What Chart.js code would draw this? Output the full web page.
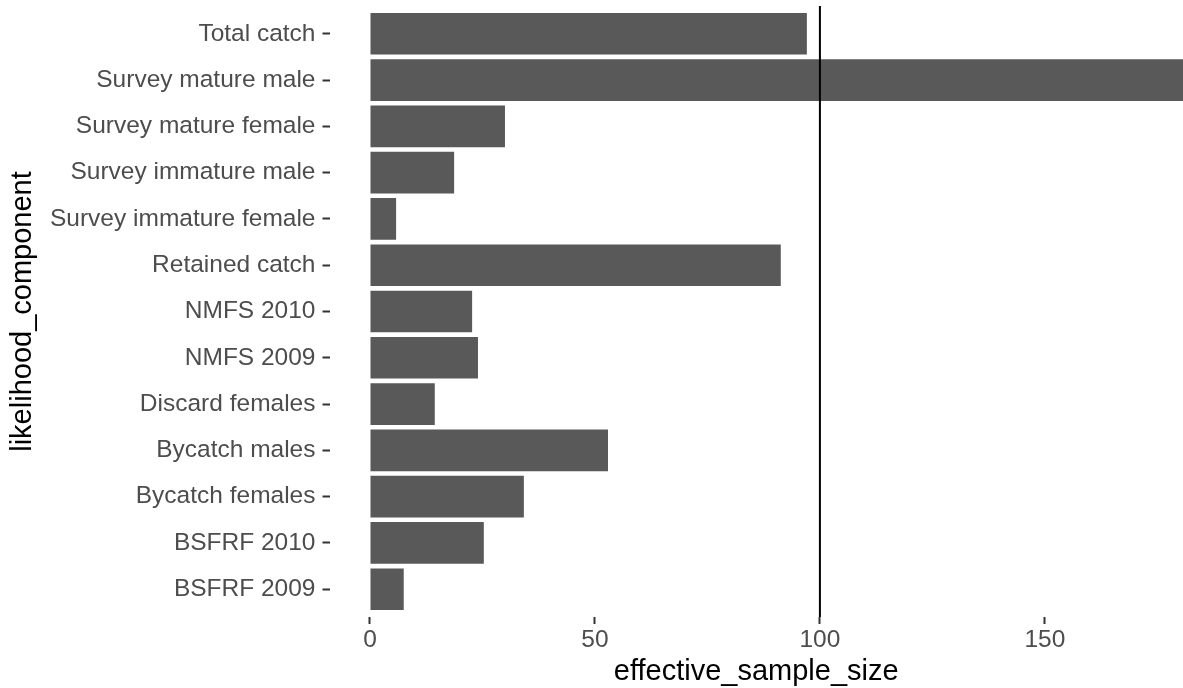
<!DOCTYPE html>
<html>
<head>
<meta charset="utf-8">
<script src="https://cdn.jsdelivr.net/npm/chart.js@4/dist/chart.umd.min.js"></script>
<style>
  html, body { margin: 0; padding: 0; background: #fff; }
  #wrap { width: 1183px; height: 688px; position: relative; }
</style>
</head>
<body>
<div id="wrap"><canvas id="c" width="1183" height="688"></canvas></div>
<script>
// Categories listed top to bottom
const categories = [
  "Total catch",
  "Survey mature male",
  "Survey mature female",
  "Survey immature male",
  "Survey immature female",
  "Retained catch",
  "NMFS 2010",
  "NMFS 2009",
  "Discard females",
  "Bycatch males",
  "Bycatch females",
  "BSFRF 2010",
  "BSFRF 2009"
];
const effectiveSampleSize = [97.1, 185, 30.0, 18.7, 5.8, 91.3, 22.7, 24.0, 14.4, 52.9, 34.2, 25.3, 7.5];
const xTickValues = [0, 50, 100, 150];
const referenceValue = 100;

const FONT = "'Liberation Sans', Arial, Helvetica, sans-serif";

const barData = categories.map((c, i) => ({ x: effectiveSampleSize[i], y: i }));
const refLine = [{ x: referenceValue, y: -0.6 }, { x: referenceValue, y: categories.length - 1 + 0.6 }];

new Chart(document.getElementById('c'), {
  type: 'bar',
  data: {
    datasets: [
      {
        type: 'line',
        data: refLine,
        borderColor: '#000000',
        borderWidth: 2,
        pointRadius: 0,
        order: 0
      },
      {
        type: 'bar',
        data: barData,
        backgroundColor: '#595959',
        borderWidth: 0,
        barPercentage: 0.9,
        categoryPercentage: 1.0,
        order: 1
      }
    ]
  },
  options: {
    indexAxis: 'y',
    responsive: false,
    animation: false,
    layout: { padding: { left: 0, right: 0, top: 6, bottom: 0 } },
    plugins: { legend: { display: false }, tooltip: { enabled: false } },
    scales: {
      x: {
        type: 'linear',
        position: 'bottom',
        offset: false,
        min: -9,
        max: 180.7,
        afterBuildTicks: (s) => { s.ticks = xTickValues.map(v => ({ value: v })); },
        afterFit: (s) => { s.height = 71; s.paddingLeft = 0; s.paddingRight = 0; },
        border: { display: false },
        grid: { offset: false, drawOnChartArea: false, drawTicks: true, tickLength: 7, tickWidth: 2, tickColor: '#333333' },
        ticks: { color: '#4D4D4D', font: { family: FONT, size: 24.5, lineHeight: 1.2 }, padding: 1.5, maxRotation: 0, callback: (v) => String(v) },
        title: { display: true, text: 'effective_sample_size', color: '#000000', font: { family: FONT, size: 29, lineHeight: 1.1 }, padding: { top: 0, bottom: 0 } }
      },
      y: {
        type: 'linear',
        position: 'left',
        reverse: true,
        offset: false,
        min: -0.6,
        max: categories.length - 1 + 0.6,
        afterBuildTicks: (s) => { s.ticks = categories.map((c, i) => ({ value: i })); },
        afterFit: (s) => { s.width = 329.5; s.paddingTop = 0; s.paddingBottom = 0; },
        border: { display: false },
        grid: { offset: false, drawOnChartArea: false, drawTicks: true, tickLength: 7, tickWidth: 2, tickColor: '#333333' },
        ticks: { color: '#4D4D4D', font: { family: FONT, size: 24.5 }, padding: 7, autoSkip: false, callback: (v) => categories[v] },
        title: { display: true, text: 'likelihood_component', color: '#000000', font: { family: FONT, size: 29, lineHeight: 1.2 }, padding: { top: 5.6, bottom: 0 } }
      }
    }
  }
});
</script>
</body>
</html>
